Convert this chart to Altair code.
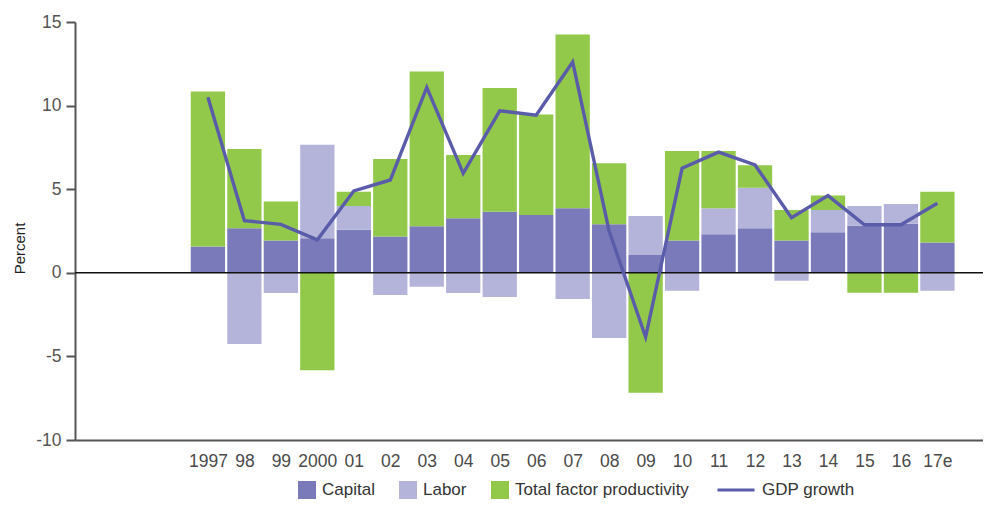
import altair as alt
import pandas as pd

years = ["1997", "98", "99", "2000", "01", "02", "03", "04", "05", "06", "07",
         "08", "09", "10", "11", "12", "13", "14", "15", "16", "17e"]
capital = [1.57, 2.67, 1.93, 2.07, 2.57, 2.17, 2.79, 3.27, 3.65, 3.46, 3.86,
           2.90, 1.07, 1.93, 2.31, 2.67, 1.93, 2.43, 2.81, 2.93, 1.81]
labor = [0.0, -4.26, -1.21, 5.59, 1.43, -1.33, -0.84, -1.21, -1.44, 0.0, -1.57,
         -3.90, 2.33, -1.07, 1.55, 2.42, -0.48, 1.33, 1.19, 1.19, -1.07]
tfp = [9.28, 4.73, 2.33, -5.83, 0.85, 4.63, 9.25, 3.77, 7.41, 6.01, 10.39,
       3.65, -7.18, 5.35, 3.42, 1.34, 1.83, 0.86, -1.19, -1.19, 3.04]
gdp = [10.5, 3.12, 2.9, 1.97, 4.9, 5.55, 11.09, 5.95, 9.69, 9.43, 12.61,
       2.5, -3.84, 6.25, 7.22, 6.45, 3.3, 4.62, 2.87, 2.87, 4.16]

bar_names = ["Capital", "Labor", "Total factor productivity"]
bar_colors = ["#7a7abb", "#b4b4da", "#92c94a"]
line_name = "GDP growth"
line_color = "#5a5caa"

rows = []
for i, y in enumerate(years):
    for k, (name, vals) in enumerate(zip(bar_names, [capital, labor, tfp])):
        rows.append({"idx": i, "year": y, "component": name, "ord": k, "value": vals[i]})
bars_df = pd.DataFrame(rows)
line_df = pd.DataFrame({"idx": list(range(len(years))), "year": years,
                        "series": line_name, "value": gdp})

FONT = "Liberation Sans, Arial, sans-serif"
label_arr = "[" + ",".join("'%s'" % y for y in years) + "]"

x_scale = alt.Scale(domain=[-3.644, 21.25], nice=False, zero=False, padding=0)
y_scale = alt.Scale(domain=[-10, 15], nice=False, padding=0)

x_axis = alt.Axis(title=None, values=list(range(len(years))),
                  labelExpr=label_arr + "[datum.value]", ticks=False, grid=False,
                  labelPadding=12, labelOverlap=False, domainColor="#555555",
                  domainWidth=2, labelFont=FONT, labelFontSize=17.5,
                  labelColor="#4a4a4a")
y_axis = alt.Axis(title="Percent", values=[-10, -5, 0, 5, 10, 15],
                  labelExpr="'' + datum.value", grid=False, tickSize=9,
                  tickWidth=2, tickColor="#555555", domainColor="#555555",
                  domainWidth=2, labelPadding=5, labelOverlap=False,
                  labelFont=FONT, labelFontSize=17.5, labelColor="#555555",
                  titleFont=FONT, titleFontSize=15, titleFontWeight="normal",
                  titleColor="#222222", titleAngle=270, titleX=-56, titleY=226,
                  titleAlign="center", titleBaseline="middle")

fill = alt.Fill(
    "component:N",
    scale=alt.Scale(domain=bar_names, range=bar_colors),
    legend=alt.Legend(
        title=None, orient="none", direction="horizontal",
        legendX=223, legendY=459,
        symbolSize=324, symbolType="square", columnPadding=24,
        symbolStrokeWidth=0, symbolOpacity=1, labelLimit=400,
        labelOffset=6, labelFont=FONT, labelFontSize=17, labelColor="#333333",
    ),
)

stroke = alt.Stroke(
    "series:N",
    scale=alt.Scale(domain=[line_name], range=[line_color]),
    legend=alt.Legend(
        title=None, orient="none", direction="horizontal",
        legendX=641, legendY=448,
        symbolSize=1369, symbolType="stroke", symbolStrokeWidth=3,
        labelLimit=400,
        labelOffset=6, labelFont=FONT, labelFontSize=17, labelColor="#333333",
    ),
)

bars = alt.Chart(bars_df).mark_bar(size=34.3).encode(
    x=alt.X("idx:Q", scale=x_scale, axis=x_axis),
    y=alt.Y("value:Q", scale=y_scale, axis=y_axis, stack="zero"),
    fill=fill,
    order=alt.Order("ord:Q"),
)

zero = alt.Chart(pd.DataFrame({"value": [0]})).mark_rule(color="#111111", strokeWidth=1.5).encode(
    y=alt.Y("value:Q", scale=y_scale, axis=y_axis),
)

line = alt.Chart(line_df).mark_line(strokeWidth=3.4).encode(
    x=alt.X("idx:Q", scale=x_scale, axis=x_axis),
    y=alt.Y("value:Q", scale=y_scale, axis=y_axis),
    stroke=stroke,
)

chart = alt.layer(bars, zero, line).properties(
    width=908, height=418,
    autosize=alt.AutoSizeParams(type="none"),
    padding={"left": 67, "top": 14, "right": 0, "bottom": 59},
    background="white",
).resolve_scale(fill="independent", stroke="independent").configure_view(
    stroke=None
)

chart.save("out.html", embed_options={"renderer": "svg", "actions": False})
